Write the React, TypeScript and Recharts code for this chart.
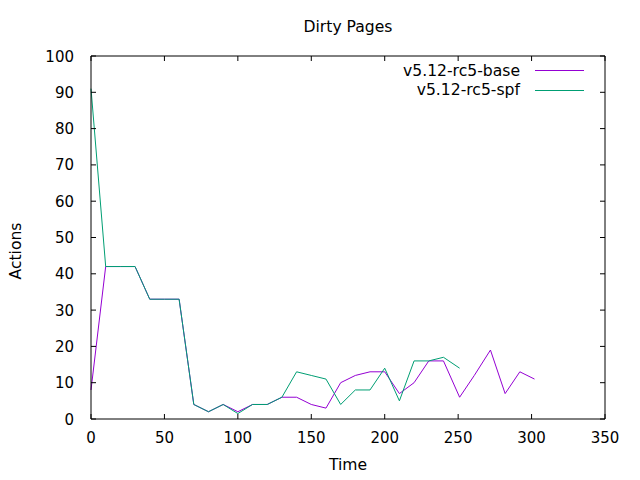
import React from 'react';
import { LineChart, Line, XAxis, YAxis, Legend } from 'recharts';

// sample times (s)
const times = [
  0, 10, 20, 30, 40, 50, 60, 70, 80, 90, 100, 110, 120, 130, 140, 150, 160, 170, 180, 190,
  200, 210, 220, 230, 240, 251, 261, 272, 282, 292, 302,
];
const baseValues = [
  8, 42, 42, 42, 33, 33, 33, 4, 2, 4, 2, 4, 4, 6, 6, 4, 3, 10, 12, 13,
  13, 7, 10, 16, 16, 6, 12, 19, 7, 13, 11,
];
const spfValues = [
  91, 42, 42, 42, 33, 33, 33, 4, 2, 4, 1.5, 4, 4, 6, 13, 12, 11, 4, 8, 8,
  14, 5, 16, 16, 17, 14,
];
const xTicks = [0, 50, 100, 150, 200, 250, 300, 350];
const yTicks = [0, 10, 20, 30, 40, 50, 60, 70, 80, 90, 100];

const seriesNames = ['v5.12-rc5-base', 'v5.12-rc5-spf'];
const seriesColors = ['#9400d3', '#009e73'];

const data = times.map((t, i) => ({
  time: t,
  base: baseValues[i],
  spf: i < spfValues.length ? spfValues[i] : undefined,
}));

const FONT = '"DejaVu Sans", sans-serif';
const TICK = 5;

const BottomTick = (props: any) => {
  const { x, y, payload } = props;
  return (
    <g>
      <line x1={x} y1={y} x2={x} y2={y - TICK} stroke="#000" />
      <text x={x} y={y + 24} textAnchor="middle" fontFamily={FONT} fontSize={15} fill="#000">
        {payload.value}
      </text>
    </g>
  );
};

const LeftTick = (props: any) => {
  const { x, y, payload } = props;
  return (
    <g>
      <line x1={x} y1={y} x2={x + TICK} y2={y} stroke="#000" />
      <text x={x - 17} y={y + 5.5} textAnchor="end" fontFamily={FONT} fontSize={15} fill="#000">
        {payload.value}
      </text>
    </g>
  );
};

// mirrored ticks, pointing inward, no labels
const TopTick = (props: any) => {
  const { x, y } = props;
  return <line x1={x} y1={y} x2={x} y2={y + TICK} stroke="#000" />;
};

const RightTick = (props: any) => {
  const { x, y } = props;
  return <line x1={x} y1={y} x2={x - TICK} y2={y} stroke="#000" />;
};

const KeyBox = () => (
  <div style={{ fontFamily: FONT, fontSize: 15.6 }}>
    {seriesNames.map((name, i) => (
      <div key={name} style={{ display: 'flex', alignItems: 'center', height: 19.5 }}>
        <span style={{ width: 140, textAlign: 'right', color: '#000' }}>{name}</span>
        <span
          style={{
            display: 'inline-block',
            width: 49,
            height: 1,
            marginLeft: 15,
            background: seriesColors[i],
          }}
        />
      </div>
    ))}
  </div>
);

export default function App() {
  return (
    <div style={{ position: 'absolute', left: 0, top: 0, width: 640, height: 480, background: '#fff' }}>
      <LineChart width={640} height={480} data={data} margin={{ top: 26, right: 5, left: 0, bottom: 0 }}>
        <XAxis
          dataKey="time"
          type="number"
          domain={[0, 350]}
          ticks={xTicks}
          height={61}
          axisLine={{ stroke: '#000' }}
          tickLine={false}
          tickSize={0}
          tickMargin={0}
          tick={<BottomTick />}
          interval={0}
        />
        <XAxis
          xAxisId="top"
          orientation="top"
          dataKey="time"
          type="number"
          domain={[0, 350]}
          ticks={xTicks}
          height={30}
          axisLine={{ stroke: '#000' }}
          tickLine={false}
          tickSize={0}
          tickMargin={0}
          tick={<TopTick />}
          interval={0}
        />
        <YAxis
          type="number"
          domain={[0, 100]}
          ticks={yTicks}
          width={91}
          axisLine={{ stroke: '#000' }}
          tickLine={false}
          tickSize={0}
          tickMargin={0}
          tick={<LeftTick />}
          interval={0}
        />
        <YAxis
          yAxisId="right"
          orientation="right"
          type="number"
          domain={[0, 100]}
          ticks={yTicks}
          width={30}
          axisLine={{ stroke: '#000' }}
          tickLine={false}
          tickSize={0}
          tickMargin={0}
          tick={<RightTick />}
          interval={0}
        />
        <Legend
          layout="vertical"
          align="center"
          verticalAlign="middle"
          content={<KeyBox />}
          wrapperStyle={{ position: 'absolute', left: 380, top: 61, width: 220 }}
        />
        <Line
          dataKey="base"
          stroke={seriesColors[0]}
          strokeWidth={1}
          dot={false}
          type="linear"
          isAnimationActive={false}
        />
        <Line
          dataKey="spf"
          stroke={seriesColors[1]}
          strokeWidth={1}
          dot={false}
          type="linear"
          isAnimationActive={false}
        />
        {/* invisible series so the mirrored top/right axes are drawn */}
        <Line
          xAxisId="top"
          yAxisId="right"
          dataKey="base"
          stroke="none"
          dot={false}
          activeDot={false}
          legendType="none"
          isAnimationActive={false}
        />
      </LineChart>
      <div
        style={{
          position: 'absolute',
          left: 0,
          width: 696,
          top: 18,
          textAlign: 'center',
          fontFamily: FONT,
          fontSize: 15.6,
        }}
      >
        Dirty Pages
      </div>
      <div
        style={{
          position: 'absolute',
          left: 0,
          width: 696,
          top: 456,
          textAlign: 'center',
          fontFamily: FONT,
          fontSize: 15.6,
        }}
      >
        Time
      </div>
      <div
        style={{
          position: 'absolute',
          left: 16,
          top: 251,
          transform: 'translate(-50%, -50%) rotate(-90deg)',
          fontFamily: FONT,
          fontSize: 15.6,
          whiteSpace: 'nowrap',
        }}
      >
        Actions
      </div>
    </div>
  );
}
